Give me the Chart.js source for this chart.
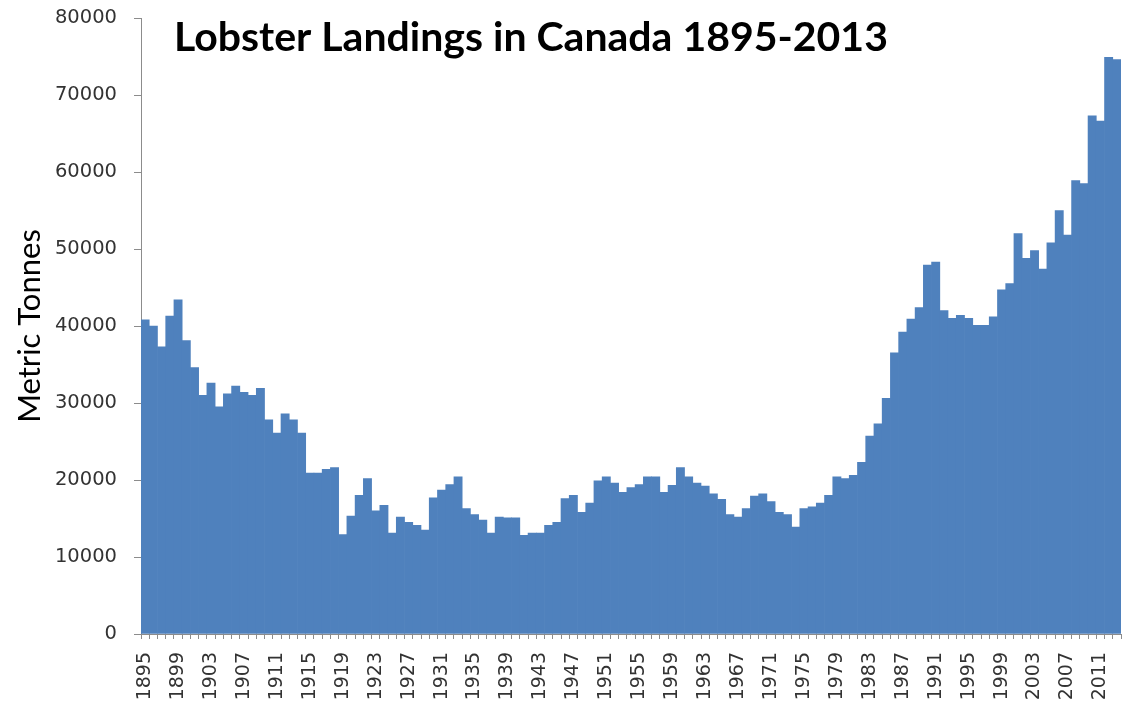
<!DOCTYPE html>
<html>
<head>
<meta charset="utf-8">
<title>Lobster Landings in Canada 1895-2013</title>
<script src="https://cdn.jsdelivr.net/npm/chart.js@4/dist/chart.umd.min.js"></script>
<style>
  html, body { margin: 0; padding: 0; background: #fff; }
  #wrap { width: 1122px; height: 703px; }
</style>
</head>
<body>
<div id="wrap"><canvas id="lobsterChart" width="1122" height="703"></canvas></div>
<script>
// ---------------------------------------------
// Lobster landings in Canada, metric tonnes
// ---------------------------------------------

const firstYear = 1895;
const lastYear = 2013;
const years = [];
for (let y = firstYear; y <= lastYear; y++) years.push(String(y));

// values, one per year
const landings = [
    40800, 40000, 37300, 41300, 43400, 38100, 34600, 31000, 32600, 29500,   // 1895-1904
    31200, 32200, 31400, 31000, 31900, 27800, 26100, 28600, 27800, 26100,   // 1905-1914
    20900, 20900, 21400, 21600, 12900, 15300, 18000, 20200, 16000, 16700,   // 1915-1924
    13100, 15200, 14500, 14100, 13500, 17700, 18700, 19400, 20400, 16300,   // 1925-1934
    15500, 14800, 13100, 15200, 15100, 15100, 12800, 13100, 13100, 14100,   // 1935-1944
    14500, 17600, 18000, 15800, 17000, 19900, 20400, 19600, 18400, 19000,   // 1945-1954
    19400, 20400, 20400, 18400, 19300, 21600, 20400, 19600, 19200, 18200,   // 1955-1964
    17500, 15500, 15200, 16300, 17900, 18200, 17200, 15800, 15500, 13900,   // 1965-1974
    16300, 16500, 17000, 18000, 20400, 20200, 20600, 22300, 25700, 27300,   // 1975-1984
    30600, 36500, 39200, 40900, 42400, 47900, 48300, 42000, 41000, 41400,   // 1985-1994
    41000, 40100, 40100, 41200, 44700, 45500, 52000, 48800, 49800, 47400,   // 1995-2004
    50800, 55000, 51800, 58900, 58500, 67300, 66600, 74900, 74600           // 2005-2013
];

const yTicks = [0, 10000, 20000, 30000, 40000, 50000, 60000, 70000, 80000];
const labelEvery = 4;   // 1895, 1899, 1903 ...

const chartTitle = 'Lobster Landings in Canada 1895-2013';
const yTitle = 'Metric Tonnes';

// title sits inside the plot area, so draw it by hand
const titlePlugin = {
    id: 'innerTitle',
    afterDraw(chart) {
        const c = chart.ctx;
        c.save();
        c.font = 'bold 41px Lato, "Liberation Sans", sans-serif';
        c.fillStyle = '#000';
        c.textBaseline = 'alphabetic';
        c.textAlign = 'left';
        c.fillText(chartTitle, chart.chartArea.left + 33, 51);
        c.restore();
    }
};

const ctx = document.getElementById('lobsterChart');

new Chart(ctx, {
    type: 'bar',
    data: {
        labels: years,
        datasets: [{
            label: 'Landings',
            data: landings,
            backgroundColor: '#4F81BD',
            borderWidth: 0,
            barPercentage: 1.0,
            categoryPercentage: 1.0
        }]
    },
    options: {
        responsive: false,
        animation: false,
        layout: { padding: { left: 0, right: 1, top: 18, bottom: 0 } },
        plugins: {
            legend: { display: false },
            tooltip: { enabled: false }
        },
        scales: {
            x: {
                grid: {
                    display: true,
                    drawOnChartArea: false,
                    offset: true,
                    tickLength: 5,
                    color: '#8c8c8c'
                },
                border: { color: '#8c8c8c', width: 1 },
                ticks: {
                    autoSkip: false,
                    maxRotation: 90,
                    minRotation: 90,
                    padding: 13,
                    color: '#333',
                    font: { family: '"DejaVu Sans"', size: 19 },
                    callback: (v, i) => (i % labelEvery === 0 ? years[i] : '')
                },
                afterFit: (scale) => {
                    scale.height = 69;
                    scale.paddingLeft = 0;
                    scale.paddingRight = 0;
                }
            },
            y: {
                min: 0,
                max: 80000,
                afterBuildTicks: (scale) => { scale.ticks = yTicks.map(v => ({ value: v })); },
                grid: {
                    display: true,
                    drawOnChartArea: false,
                    tickLength: 7,
                    color: '#8c8c8c'
                },
                border: { color: '#8c8c8c', width: 1 },
                ticks: {
                    padding: 17,
                    color: '#333',
                    font: { family: '"DejaVu Sans"', size: 19.5 },
                    callback: (v) => String(v)
                },
                title: {
                    display: true,
                    text: yTitle,
                    color: '#000',
                    font: { family: 'Lato, "Liberation Sans", sans-serif', size: 31 },
                    padding: { top: 11, bottom: 0 }
                },
                afterFit: (scale) => {
                    scale.width = 141;
                    scale.paddingTop = 0;
                    scale.paddingBottom = 0;
                }
            }
        }
    },
    plugins: [titlePlugin]
});
</script>
</body>
</html>
